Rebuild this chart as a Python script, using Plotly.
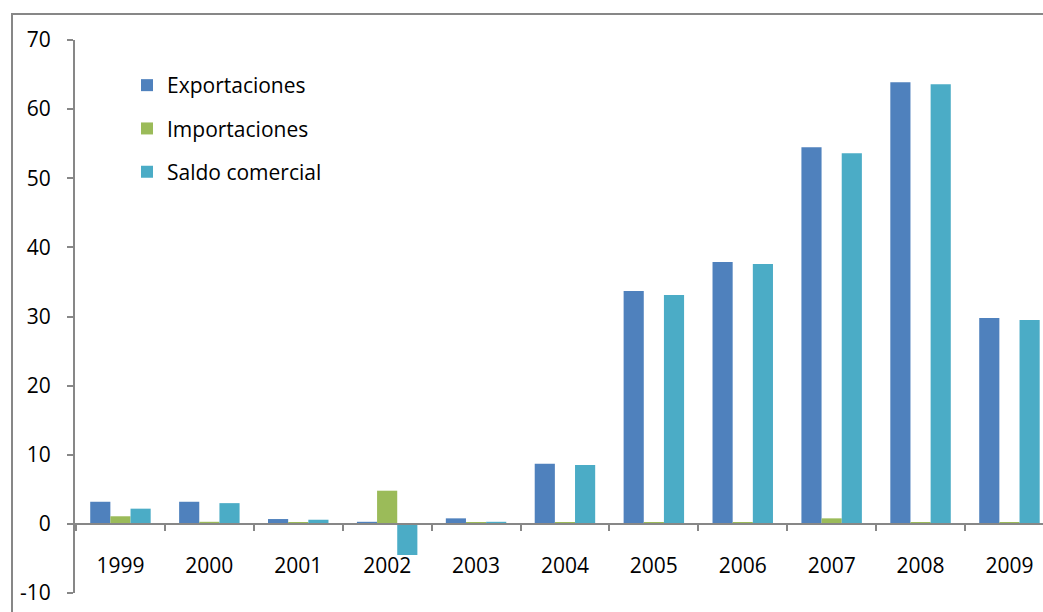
import plotly.graph_objects as go

years = ["1999", "2000", "2001", "2002", "2003", "2004", "2005", "2006", "2007", "2008", "2009"]
exportaciones = [3.2, 3.2, 0.7, 0.3, 0.8, 8.7, 33.7, 37.9, 54.5, 63.9, 29.8]
importaciones = [1.1, 0.3, 0.2, 4.8, 0.2, 0.2, 0.2, 0.2, 0.8, 0.2, 0.2]
saldo_comercial = [2.2, 3.0, 0.6, -4.5, 0.3, 8.5, 33.1, 37.6, 53.6, 63.6, 29.5]
y_ticks = [-10, 0, 10, 20, 30, 40, 50, 60, 70]
y_tick_labels = ["-10", "0", "10", "20", "30", "40", "50", "60", "70"]

FONT = "Open Sans"
AXIS = "#878787"

fig = go.Figure()
fig.add_trace(go.Bar(name="Exportaciones", x=years, y=exportaciones,
                     marker=dict(color="#4F81BD", line=dict(width=0)), legendgroup="a"))
fig.add_trace(go.Bar(name="Importaciones", x=years, y=importaciones,
                     marker=dict(color="#9BBB59", line=dict(width=0)), legendgroup="b"))
fig.add_trace(go.Bar(name="Saldo comercial", x=years, y=saldo_comercial,
                     marker=dict(color="#4BACC6", line=dict(width=0)), legendgroup="c"))

L, R, T, B = 75, 0, 40, 19
W, H = 1043, 612
plot_w = W - L - R
plot_h = H - T - B
cat_w = 88.9
x0 = -0.5 - 1.0 / cat_w
x1 = x0 + plot_w / cat_w

fig.update_layout(
    width=W, height=H,
    margin=dict(l=L, r=R, t=T, b=B, pad=0),
    paper_bgcolor="white", plot_bgcolor="white",
    barmode="group", bargap=0.32, bargroupgap=0,
    font=dict(family=FONT, size=21, color="black"),
    showlegend=True,
    legend=dict(x=(127 - L) / plot_w, y=(H - B - 65) / plot_h, xanchor="left", yanchor="top",
                font=dict(family=FONT, size=21, color="black"),
                bgcolor="rgba(0,0,0,0)", tracegroupgap=13, traceorder="grouped"),
    xaxis=dict(type="category", range=[x0, x1], anchor="free", position=10 / 80,
               showline=True, linecolor=AXIS, linewidth=2,
               ticks="outside", tickson="boundaries", ticklen=6, tickwidth=1.5, tickcolor=AXIS,
               ticklabelstandoff=23, showgrid=False, zeroline=False,
               tickfont=dict(family=FONT, size=21, color="black")),
    yaxis=dict(range=[-10, 70], tickvals=y_ticks, ticktext=y_tick_labels,
               showline=True, linecolor=AXIS, linewidth=2,
               ticks="outside", ticklen=6, tickwidth=1.5, tickcolor=AXIS,
               ticklabelstandoff=12, showgrid=False, zeroline=False,
               tickfont=dict(family=FONT, size=21, color="black")),
    shapes=[dict(type="rect", xref="paper", yref="paper",
                 x0=(12 - L) / plot_w, x1=(W + 20 - L) / plot_w,
                 y0=(H - B - (H + 20)) / plot_h, y1=(H - B - 14) / plot_h,
                 line=dict(color=AXIS, width=2), fillcolor="rgba(0,0,0,0)", layer="below")],
)

fig.write_html("out.html", config={"displayModeBar": False},
               post_script="document.body.style.margin='0';document.body.style.overflow='hidden';")
